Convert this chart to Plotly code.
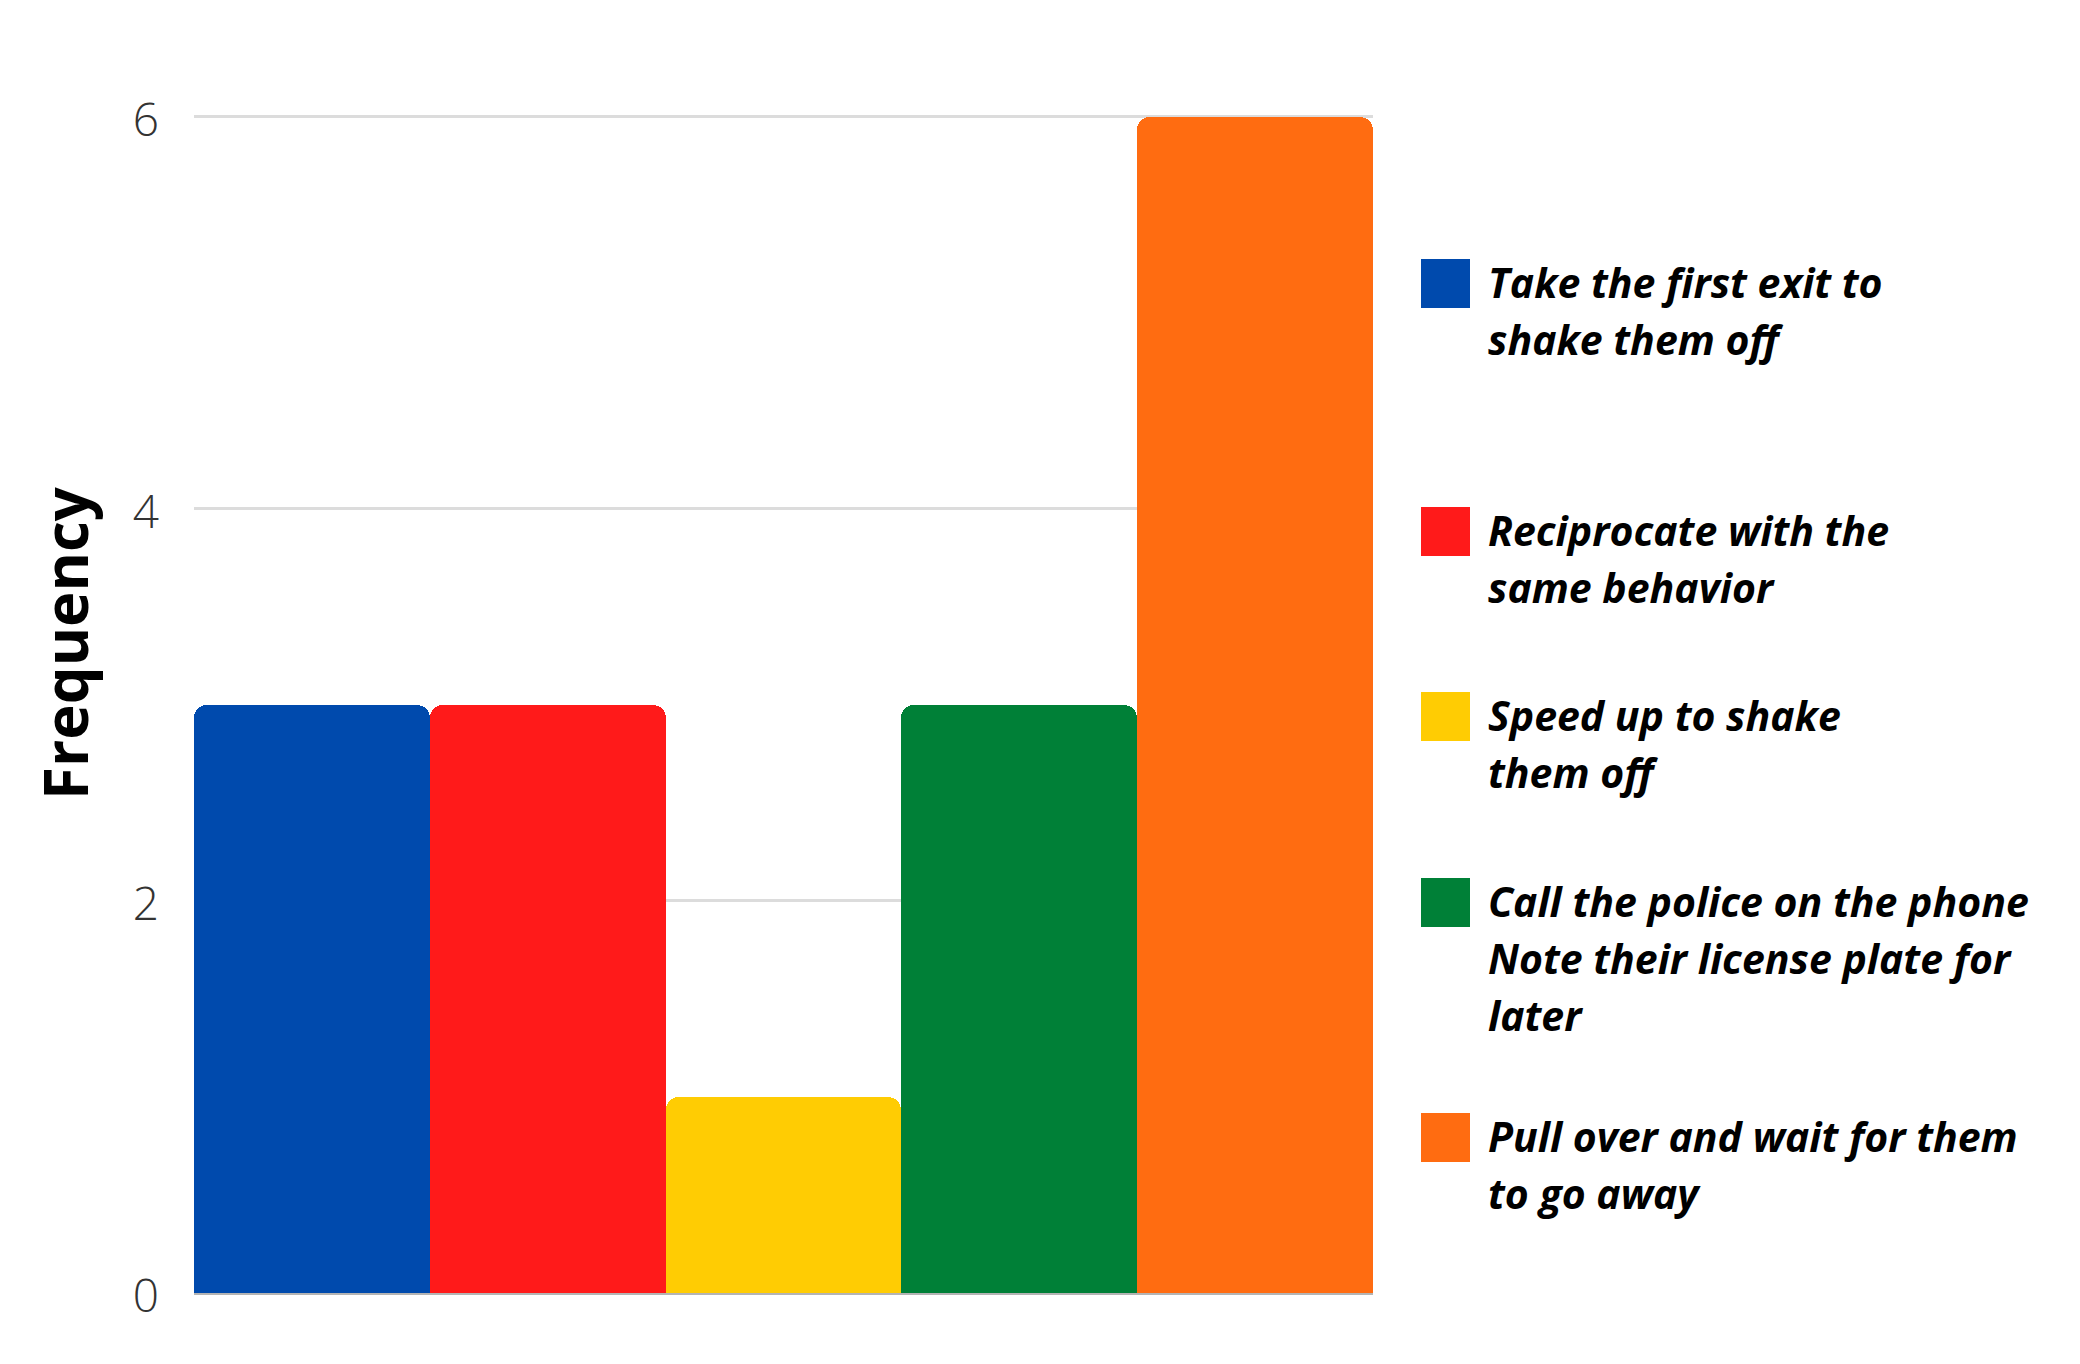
import plotly.graph_objects as go

# ---- data ----
categories = [
    "Take the first exit to<br>shake them off",
    "Reciprocate with the<br>same behavior",
    "Speed up to shake<br>them off",
    "Call the police on the phone<br>Note their license plate for<br>later",
    "Pull over and wait for them<br>to go away",
]
frequency = [3, 3, 1, 3, 6]
colors = ["#004AAD", "#FF1A1A", "#FFCC03", "#008037", "#FF6C11"]
y_ticks = [0, 2, 4, 6]

# ---- layout geometry (screen pixels; page body has an 8px margin) ----
OFF = 8
W, H = 2080 - 2 * OFF, 1364 - 2 * OFF
Y_MAX = 6.02
unit = (1293 - 117) / 6.0            # pixels per frequency unit
plot_left, plot_right = 194, 1373
plot_bottom = 1293
plot_top = plot_bottom - unit * Y_MAX
L = plot_left - OFF
T = plot_top - OFF
R = W - (plot_right - OFF)
B = H - (plot_bottom - OFF)
PW, PH = plot_right - plot_left, plot_bottom - plot_top


def px_x(px):
    return (px - plot_left) / PW


def px_y(py):
    return (plot_bottom - py) / PH


fig = go.Figure()
fig.add_trace(go.Bar(
    x=list(range(len(categories))),
    y=frequency,
    marker=dict(color=colors, line=dict(width=0), cornerradius=13),
    showlegend=False,
    hovertext=[c.replace("<br>", " ") for c in categories],
    hoverinfo="text+y",
))

# manual legend (large swatches like the reference)
legend_tops = [259, 507, 692, 878, 1113]
sq = 49
line_gap = 57
annotations = []
shapes = []
for cat, col, top in zip(categories, colors, legend_tops):
    shapes.append(dict(
        type="rect", xref="paper", yref="paper",
        x0=px_x(1421), x1=px_x(1421 + sq),
        y0=px_y(top + sq), y1=px_y(top),
        fillcolor=col, line=dict(width=0),
    ))
    for i, line in enumerate(cat.split("<br>")):
        annotations.append(dict(
            xref="paper", yref="paper",
            x=px_x(1486), y=px_y(top - 7 + i * line_gap),
            xanchor="left", yanchor="top", align="left",
            text=line, showarrow=False,
            font=dict(family="Open Sans", size=41, color="#000000",
                      weight="bold", style="italic"),
        ))

# y-axis title
annotations.append(dict(
    xref="paper", yref="paper",
    x=px_x(65), y=px_y(643),
    xanchor="center", yanchor="middle",
    text="Frequency", textangle=-90, showarrow=False,
    font=dict(family="Open Sans", size=60, color="#000000", weight="bold"),
))

fig.update_layout(
    width=W, height=H,
    margin=dict(l=L, r=R, t=T, b=B, autoexpand=False),
    paper_bgcolor="white", plot_bgcolor="white",
    bargap=0,
    shapes=shapes,
    annotations=annotations,
    xaxis=dict(
        range=[-0.5, len(categories) - 0.5],
        showticklabels=False, showgrid=False, zeroline=False,
        showline=True, linecolor="#b4b4b4", linewidth=2,
        ticks="",
    ),
    yaxis=dict(
        range=[0, Y_MAX],
        tickvals=y_ticks,
        ticktext=[str(v) for v in y_ticks],
        showgrid=True, gridcolor="#dcdcdc", gridwidth=3,
        zeroline=False, showline=False, ticks="",
        ticklabelstandoff=34,
        ticklabelshift=3,
        tickfont=dict(family="Open Sans", size=46, color="#333333", weight=300),
    ),
)

fig.write_html("out.html")
